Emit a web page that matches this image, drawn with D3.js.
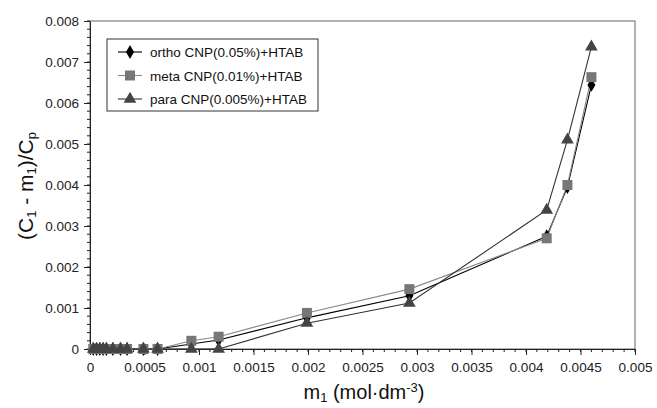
<!DOCTYPE html>
<html><head><meta charset="utf-8">
<script src="https://cdn.jsdelivr.net/npm/d3@7"></script>
<style>body{margin:0;background:#fff}svg{display:block;font-family:"Liberation Sans",Arial,sans-serif}</style>
</head><body><svg id="c" width="657" height="408"></svg>
<script>
const mValues = [0.00003,0.00006,0.00009,0.00012,0.00015,0.00021,0.00028,0.00034,0.00049,0.00062,0.00093,0.00118,0.00199,0.00293,0.00419,0.00438,0.0046];
const orthoY = [0,0,0,0,0,0,0,0,0,0,0.00012,0.00022,0.00076,0.0013,0.00275,0.00395,0.00644];
const metaY  = [0,0,0,0,0,0,0,0,0,0,0.0002,0.0003,0.00088,0.00146,0.0027,0.004,0.00663];
const paraY  = [0,0,0,0,0,0,0,0,0,0,0,0,0.00063,0.00112,0.00339,0.0051,0.00737];
const xTicks = [0,0.0005,0.001,0.0015,0.002,0.0025,0.003,0.0035,0.004,0.0045,0.005];
const yTicks = [0,0.001,0.002,0.003,0.004,0.005,0.006,0.007,0.008];
const seriesNames = ["ortho CNP(0.05%)+HTAB","meta CNP(0.01%)+HTAB","para CNP(0.005%)+HTAB"];

const svg = d3.select("#c");
const L=90,R=635,T=21,B=349;
const x = d3.scaleLinear().domain([0,0.005]).range([L,R]);
const y = d3.scaleLinear().domain([0,0.008]).range([B,T]);

// frame
svg.append("rect").attr("x",L).attr("y",T).attr("width",R-L).attr("height",B-T)
  .attr("fill","none").attr("stroke","#666").attr("stroke-width",1);

// minor ticks
const xMinor = d3.range(0,0.00501,0.0001);
svg.append("g").selectAll("line").data(xMinor).join("line")
  .attr("x1",d=>x(d)).attr("x2",d=>x(d)).attr("y1",B).attr("y2",B+3).attr("stroke","#222");
const yMinor = d3.range(0,0.00801,0.0002);
svg.append("g").selectAll("line").data(yMinor).join("line")
  .attr("y1",d=>y(d)).attr("y2",d=>y(d)).attr("x1",L-3).attr("x2",L).attr("stroke","#222");

const xAxis = svg.append("g").attr("transform",`translate(0,${B})`)
  .call(d3.axisBottom(x).tickValues(xTicks).tickFormat(d=>d3.format("")(+d.toFixed(4))).tickSizeInner(6).tickSizeOuter(0).tickPadding(7));
const yAxis = svg.append("g").attr("transform",`translate(${L},0)`)
  .call(d3.axisLeft(y).tickValues(yTicks).tickFormat(d=>d3.format("")(+d.toFixed(4))).tickSizeInner(6).tickSizeOuter(0).tickPadding(5));
[xAxis,yAxis].forEach(a=>{
  a.select(".domain").attr("stroke","#222");
  a.selectAll(".tick line").attr("stroke","#222");
  a.selectAll("text").attr("font-size",13.5).attr("fill","#222").attr("font-family","'Liberation Sans',Arial,sans-serif");
});

const series = [
  {name:seriesNames[0], ys:orthoY, stroke:"#000", fill:"#000", sym:d3.symbolDiamond, size:55},
  {name:seriesNames[1], ys:metaY, stroke:"#888", fill:"#777", sym:d3.symbolSquare, size:100},
  {name:seriesNames[2], ys:paraY, stroke:"#333", fill:"#444", sym:d3.symbolTriangle, size:70}
];
const line = d3.line().x(d=>x(d[0])).y(d=>y(d[1]));
series.forEach(s=>{
  const pts = mValues.map((m,i)=>[m,s.ys[i]]);
  svg.append("path").datum(pts).attr("d",line).attr("fill","none").attr("stroke",s.stroke).attr("stroke-width",1.1);
});
series.forEach(s=>{
  const pts = mValues.map((m,i)=>[m,s.ys[i]]);
  svg.append("g").selectAll("path").data(pts).join("path")
    .attr("d",d3.symbol().type(s.sym).size(s.size))
    .attr("transform",d=>`translate(${x(d[0])},${y(d[1])})`)
    .attr("fill",s.fill);
});

// legend
const lg = svg.append("g");
lg.append("rect").attr("x",107).attr("y",39).attr("width",211).attr("height",72)
  .attr("fill","#fff").attr("stroke","#333").attr("stroke-width",1);
series.forEach((s,i)=>{
  const cy = 52+i*23.5;
  lg.append("line").attr("x1",118).attr("x2",142).attr("y1",cy).attr("y2",cy).attr("stroke",s.stroke).attr("stroke-width",1.1);
  lg.append("path").attr("d",d3.symbol().type(s.sym).size(s.size)).attr("transform",`translate(130,${cy})`).attr("fill",s.fill);
  lg.append("text").attr("x",150).attr("y",cy+5).attr("font-size",13.5).attr("fill","#111").text(s.name);
});

// axis titles
const xt = svg.append("text").attr("x",364).attr("y",399).attr("text-anchor","middle").attr("font-size",20).attr("fill","#111");
xt.append("tspan").text("m");
xt.append("tspan").attr("font-size",13).attr("dy",3).text("1");
xt.append("tspan").attr("dy",-3).text(" (mol·dm");
xt.append("tspan").attr("font-size",13).attr("dy",-7).text("-3");
xt.append("tspan").attr("dy",7).text(")");

const yt = svg.append("text").attr("transform","translate(33,186) rotate(-90)").attr("text-anchor","middle").attr("font-size",21).attr("fill","#111");
yt.append("tspan").text("(C");
yt.append("tspan").attr("font-size",13).attr("dy",3).text("1");
yt.append("tspan").attr("dy",-3).text(" - m");
yt.append("tspan").attr("font-size",13).attr("dy",3).text("1");
yt.append("tspan").attr("dy",-3).text(")/C");
yt.append("tspan").attr("font-size",13).attr("dy",3).text("p");
</script></body></html>
